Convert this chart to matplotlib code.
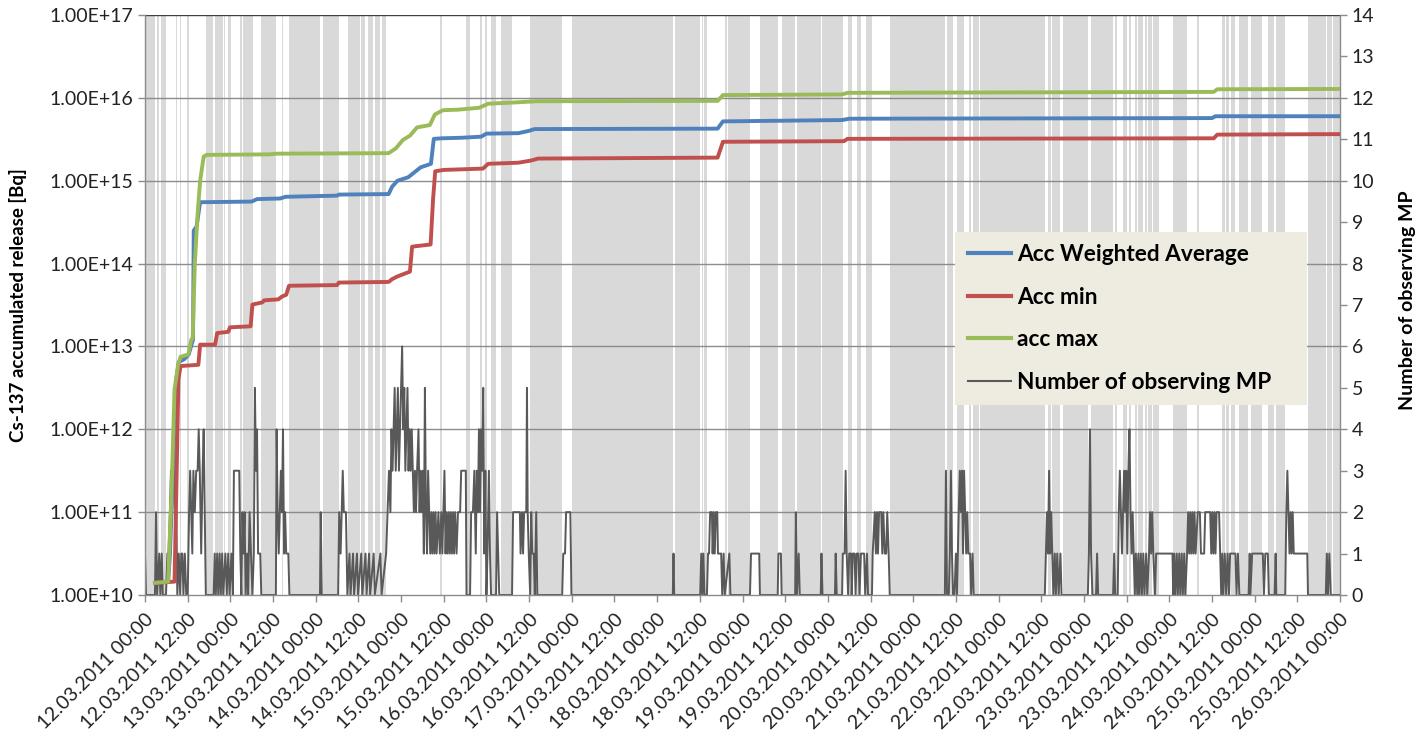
import matplotlib.pyplot as plt
import pandas as pd
from matplotlib.ticker import FixedLocator, FuncFormatter
from matplotlib.lines import Line2D

plt.rcParams['font.family'] = ['Lato', 'DejaVu Sans']

# Horas desde 12.03.2011 00:00
tick_labels = list(pd.date_range('2011-03-12 00:00', '2011-03-26 00:00', freq='12h').strftime('%d.%m.%Y %H:%M'))
tick_hours = list(range(0, 337, 12))

# Periodos sem observacao (faixas cinzas), inicio e fim em horas
band_start = [0, 3.4, 4.4, 8.7, 9.8, 10.6, 11.7, 17.1, 19.6, 22.2, 23.3, 26.7, 27.6, 32.7, 38.4, 40.5,
              50.0, 57.2, 60.7, 62.6, 64.7, 66.6, 82.9, 90.3, 94.2, 95.6, 97.3, 100.0, 108.3, 120.1,
              149.0, 156.5, 157.3, 163.1, 163.8, 172.8, 179.0, 183.2, 190.4, 197.8, 200.1, 202.7,
              209.5, 225.6, 228.4, 231.7, 232.9, 234.8, 254.0, 255.0, 258.2, 266.0, 272.8, 275.1,
              276.7, 278.4, 279.3, 281.2, 282.1, 283.5, 289.1, 295.7, 302.7, 304.0, 305.3, 307.7,
              310.9, 315.8, 317.9, 326.9, 332.4, 334.1]
band_end = [2.8, 3.9, 5.9, 9.0, 10.1, 10.8, 12.4, 19.2, 22.0, 22.5, 24.2, 27.2, 30.3, 36.8, 38.8, 49.2,
            54.5, 60.5, 61.9, 64.2, 66.1, 67.7, 83.4, 91.4, 94.7, 96.1, 98.7, 103.1, 117.3, 148.4,
            156.0, 156.9, 158.0, 163.6, 170.1, 177.9, 182.8, 190.0, 196.3, 198.7, 201.3, 204.3,
            224.9, 227.1, 230.4, 232.2, 234.5, 253.1, 254.7, 257.3, 265.1, 272.1, 273.4, 276.2,
            277.2, 278.8, 280.7, 281.7, 283.1, 285.2, 292.9, 296.3, 303.7, 304.9, 306.5, 310.2,
            314.2, 317.5, 320.6, 332.1, 333.7, 336]

# Numero de pontos de medicao (MP) observando
mp_h = [0, 0.3, 2.8, 3.1, 3.4, 4.0, 4.3, 4.7, 5.0, 5.9, 6.3, 6.6, 7.0, 7.3, 7.6, 7.9, 8.2, 8.5, 8.8, 9.1,
        9.5, 9.9, 10.2, 10.5, 10.8, 11.2, 11.6, 12.0, 12.4, 12.7, 13.0, 13.3, 13.6, 14.0, 14.4, 14.8,
        15.1, 15.4, 15.8, 16.2, 16.5, 16.8, 17.1, 19.3, 19.6, 19.9, 20.3, 20.6, 21.0, 21.3, 21.7, 22.0,
        22.6, 23.0, 23.4, 23.8, 24.3, 24.7, 25.0, 26.5, 26.8, 27.1, 27.4, 27.7, 28.0, 28.3, 28.7, 29.0,
        29.4, 29.8, 30.2, 30.6, 30.9, 31.2, 31.5, 31.8, 32.4, 32.7, 36.8, 37.0, 37.3, 37.6, 37.9, 38.2,
        38.5, 38.8, 39.1, 39.4, 39.7, 40.3, 40.6, 49.2, 49.4, 49.7, 54.3, 54.6, 55.0, 55.3, 55.6, 55.9,
        56.5, 56.9, 57.5, 57.8, 58.5, 58.8, 59.6, 59.9, 60.8, 61.1, 62.0, 62.3, 63.0, 63.3, 64.3, 64.6,
        66.2, 66.5, 67.8, 68.2, 68.6, 69.0, 69.3, 69.6, 69.9, 70.2, 70.5, 70.8, 71.1, 71.4, 71.7, 72.0,
        72.3, 72.6, 72.9, 73.2, 73.5, 73.8, 74.1, 74.4, 74.7, 75.0, 75.3, 75.6, 75.9, 76.2, 76.5, 76.9,
        77.2, 77.5, 77.8, 78.1, 78.4, 78.7, 79.0, 79.3, 79.6, 79.9, 80.2, 80.5, 80.8, 81.1, 81.4, 81.7,
        82.0, 82.5, 82.9, 83.3, 83.6, 83.9, 84.2, 84.5, 84.8, 85.1, 85.4, 85.7, 86.0, 86.3, 86.6, 86.9,
        87.2, 87.6, 88.0, 88.6, 88.9, 90.2, 90.4, 91.4, 91.7, 92.2, 92.6, 93.0, 93.3, 93.6, 93.9, 94.2,
        94.5, 94.8, 95.1, 95.4, 95.7, 96.0, 96.3, 96.7, 97.0, 97.3, 98.7, 99.0, 99.3, 99.6, 103.2, 103.5,
        105.4, 105.6, 106.0, 106.3, 106.6, 107.2, 107.4, 107.6, 107.9, 108.3, 108.6, 108.9, 109.3, 109.6,
        110.0, 110.3, 117.3, 117.6, 118.1, 118.4, 119.6, 119.9, 148.4, 148.6, 148.8, 156.1, 156.4, 156.7,
        157.0, 157.3, 158.0, 158.3, 158.6, 158.9, 159.4, 159.6, 159.9, 160.2, 160.5, 160.9, 161.1, 162.0,
        162.3, 162.7, 163.0, 164.3, 164.6, 170.1, 170.4, 172.7, 172.9, 177.9, 178.1, 178.8, 179.0, 182.8,
        183.0, 183.3, 183.8, 184.1, 190.0, 190.2, 190.5, 194.0, 194.2, 194.5, 196.0, 196.2, 196.7, 197.0,
        197.3, 197.7, 198.0, 198.5, 198.7, 199.0, 199.5, 199.8, 200.1, 200.6, 200.9, 201.3, 202.2, 202.5,
        203.0, 203.3, 204.4, 204.6, 205.2, 205.5, 205.8, 206.1, 206.4, 207.0, 207.3, 207.6, 208.0, 208.4,
        208.7, 209.1, 209.4, 224.9, 225.2, 225.5, 226.0, 226.3, 226.6, 226.9, 227.2, 227.6, 228.0, 228.3,
        228.8, 229.1, 229.4, 229.7, 230.0, 230.3, 230.6, 230.9, 231.2, 231.5, 232.0, 232.3, 232.7, 233.0,
        234.5, 253.0, 253.3, 253.6, 253.9, 254.2, 254.5, 254.8, 255.1, 255.4, 255.8, 256.1, 256.5, 256.9,
        257.4, 257.7, 258.0, 258.4, 265.1, 265.4, 265.7, 266.0, 266.4, 267.4, 267.7, 268.0, 272.2, 272.5,
        272.8, 273.5, 273.8, 274.1, 274.4, 274.7, 275.0, 275.3, 275.6, 275.9, 276.2, 276.5, 276.8, 277.1,
        277.4, 277.7, 278.0, 278.3, 278.6, 279.0, 279.3, 279.6, 280.0, 280.3, 280.7, 281.0, 281.5, 281.8,
        282.3, 282.6, 282.9, 283.2, 283.5, 284.0, 284.3, 285.3, 288.9, 289.1, 289.4, 289.7, 290.1, 290.4,
        290.8, 291.1, 291.5, 291.8, 292.2, 292.5, 293.0, 293.3, 293.6, 293.9, 294.2, 294.5, 294.8, 295.1,
        295.4, 296.0, 296.6, 296.9, 297.8, 298.1, 299.5, 299.8, 300.1, 300.4, 300.7, 301.0, 301.3, 302.0,
        302.3, 302.6, 302.9, 303.2, 303.6, 304.0, 304.4, 304.8, 305.1, 306.6, 306.9, 307.3, 307.7, 310.3,
        310.6, 310.8, 311.3, 314.3, 314.6, 315.0, 315.7, 316.0, 317.6, 317.9, 318.1, 320.6, 320.9, 321.2,
        321.5, 321.8, 322.1, 322.4, 322.7, 323.0, 326.8, 327.0, 332.0, 332.3, 332.6, 333.0, 333.4, 336]
mp_n = [1, 0, 0, 2, 0, 1, 0, 1, 0, 0, 1, 1, 2, 3, 2, 3, 4, 1, 2, 0,
        1, 0, 1, 1, 0, 1, 0, 0, 2, 3, 2, 1, 3, 2, 3, 3,
        4, 3, 1, 3, 4, 2, 0, 0, 1, 0, 1, 0, 1, 0, 1, 0,
        1, 0, 1, 0, 1, 0, 3, 3, 1, 0, 2, 1, 2, 0, 1, 0,
        2, 1, 0, 1, 5, 3, 4, 1, 1, 0, 0, 4, 2, 1, 2, 3,
        2, 4, 1, 2, 1, 1, 0, 0, 2, 0, 0, 2, 1, 2, 3, 2,
        2, 0, 1, 0, 1, 0, 1, 0, 1, 0, 1, 0, 1, 0, 1, 0,
        1, 0, 1, 2, 3, 2, 4, 3, 4, 5, 3, 4, 5, 3, 4, 5,
        6, 4, 5, 3, 4, 5, 3, 4, 3, 4, 3, 2, 3, 2, 3, 4,
        2, 3, 2, 3, 1, 5, 2, 1, 3, 2, 1, 2, 1, 2, 1, 2,
        1, 2, 1, 2, 1, 2, 3, 1, 2, 1, 2, 1, 2, 1, 2, 1,
        2, 1, 2, 2, 3, 3, 0, 0, 2, 2, 3, 1, 3, 2, 4, 2,
        4, 3, 5, 1, 3, 0, 1, 3, 1, 0, 0, 2, 1, 0, 0, 2,
        2, 1, 2, 1, 2, 2, 5, 2, 1, 0, 2, 1, 1, 0,
        2, 0, 0, 1, 1, 2, 2, 0, 0, 1, 0, 0, 1, 0,
        1, 0, 0, 1, 1, 2, 2, 1, 2, 1, 2, 2, 1, 1,
        0, 1, 0, 1, 0, 0, 1, 1, 0, 0, 1, 1, 0, 0,
        2, 0, 1, 0, 0, 1, 0, 0, 1, 0, 0, 1, 1, 3,
        1, 0, 1, 1, 0, 1, 1, 0, 1, 1, 0, 1, 1, 0,
        1, 0, 0, 1, 2, 1, 2, 1, 2, 2, 1, 2, 1, 1,
        2, 1, 0, 0, 3, 0, 0, 1, 3, 1, 0, 0, 1, 0,
        2, 3, 2, 3, 1, 3, 2, 1, 2, 1, 1, 0, 1, 0,
        0, 0, 1, 2, 1, 3, 1, 2, 1, 0, 1, 0, 1, 0,
        1, 0, 0, 0, 0, 1, 4, 1, 0, 0, 1, 0, 0, 1,
        0, 0, 2, 3, 2, 1, 2, 3, 2, 3, 1, 3, 4, 2,
        1, 2, 1, 0, 1, 0, 1, 0, 1, 0, 1, 0, 1, 0,
        1, 2, 1, 2, 1, 0, 1, 1, 1, 0, 1, 0, 1, 0,
        1, 0, 1, 0, 1, 0, 1, 2, 1, 2, 1, 2, 1, 2,
        1, 2, 2, 1, 1, 2, 2, 1, 2, 1, 2, 1, 2, 2,
        1, 0, 1, 0, 1, 0, 1, 0, 1, 1, 0, 1, 0, 0,
        1, 0, 1, 1, 0, 1, 1, 0, 0, 1, 0, 0, 2, 3,
        2, 1, 2, 1, 2, 1, 1, 0, 0, 1, 0, 1, 0, 0]

# Liberacao acumulada de Cs-137 [Bq]
avg_h = [2.8, 6.5, 7.0, 8.0, 8.8, 9.5, 11.0, 12.3, 13.2, 13.5, 13.7, 14.5, 15.5, 30, 31.5, 38, 39.5, 54,
         54.5, 68.5, 69.5, 71, 74, 77.5, 80.4, 81.2, 83.5, 89, 94.5, 96, 105, 108, 109.5, 161, 162.5,
         196, 198, 300, 301, 336]
avg_v = [1.4e10, 1.45e10, 3e10, 5e11, 4e12, 6.5e12, 7e12, 8e12, 1.1e13, 1.2e13, 2.5e14, 2.8e14, 5.5e14,
         5.6e14, 6.0e14, 6.1e14, 6.4e14, 6.6e14, 6.8e14, 6.9e14, 8.5e14, 1.0e15, 1.1e15, 1.45e15,
         1.6e15, 3.2e15, 3.25e15, 3.3e15, 3.4e15, 3.7e15, 3.75e15, 4.0e15, 4.2e15, 4.25e15, 5.2e15,
         5.4e15, 5.6e15, 5.7e15, 6.0e15, 6.0e15]

min_h = [2.8, 8.3, 8.9, 9.4, 10, 15, 15.5, 19.7, 20.3, 23.4, 23.9, 29.7, 30.2, 33, 33.5, 37.5, 38.5,
         39.7, 40.5, 54, 54.5, 68.5, 69.5, 71, 74.5, 75.1, 80.3, 81.0, 81.6, 84, 95, 96.5, 105, 108.5,
         110.5, 161, 162.5, 196.5, 197.5, 300.5, 301.5, 336]
min_v = [1.4e10, 1.45e10, 3e11, 4e12, 5.8e12, 6e12, 1.05e13, 1.05e13, 1.45e13, 1.5e13, 1.7e13, 1.75e13,
         3.2e13, 3.4e13, 3.6e13, 3.7e13, 4e13, 4.2e13, 5.4e13, 5.5e13, 5.9e13, 6e13, 6.5e13, 7e13, 8e13,
         1.6e14, 1.7e14, 6e14, 1.3e15, 1.35e15, 1.4e15, 1.6e15, 1.65e15, 1.75e15, 1.85e15, 1.9e15,
         2.95e15, 3.0e15, 3.2e15, 3.25e15, 3.6e15, 3.65e15]

max_h = [2.8, 6.5, 7.5, 8.3, 9.3, 10, 12.2, 13.0, 13.4, 14, 14.8, 15.5, 16.5, 17.3, 35, 37, 68.5, 70.5,
         72.5, 74.5, 76.5, 80.1, 81.5, 83.8, 88, 94, 96.5, 104, 108, 110, 161, 162.5, 196, 197.5, 300.5,
         301.5, 336]
max_v = [1.4e10, 1.45e10, 2e11, 3e12, 6e12, 7.5e12, 8e12, 1.2e13, 1.25e13, 1e14, 4e14, 1.0e15, 1.95e15,
         2.05e15, 2.08e15, 2.12e15, 2.15e15, 2.45e15, 3.1e15, 3.5e15, 4.4e15, 4.7e15, 6.3e15, 7.1e15,
         7.2e15, 7.6e15, 8.5e15, 8.8e15, 9.0e15, 9.1e15, 9.2e15, 1.08e16, 1.1e16, 1.15e16, 1.18e16,
         1.27e16, 1.28e16]

fig = plt.figure(figsize=(14.2, 7.39), dpi=100)
ax = fig.add_axes([145 / 1420, 1 - 595 / 739, 1195 / 1420, 580 / 739])
ax2 = ax.twinx()
ax.set_zorder(ax2.get_zorder() + 1)
ax.patch.set_visible(False)

grid_c = '#8c8c8c'

# Eixo secundario: faixas cinzas, grade e numero de MP
for s, e in zip(band_start, band_end):
    ax2.axvspan(s, e, color='#d9d9d9', lw=0, zorder=0)
for v in range(2, 14, 2):
    ax2.axhline(v, color=grid_c, lw=1, zorder=1)
ax2.axhline(14, color='#404040', lw=1, zorder=1)
ax2.plot(mp_h, mp_n, color='#595959', lw=1.4, zorder=2)
ax2.set_ylim(0, 14)
ax2.set_yticks(range(0, 15))

# Eixo principal (log): liberacao acumulada
ax.plot(avg_h, avg_v, color='#4f81bd', lw=2.8, solid_joinstyle='round')
ax.plot(min_h, min_v, color='#c0504d', lw=2.8, solid_joinstyle='round')
ax.plot(max_h, max_v, color='#9bbb59', lw=2.8, solid_joinstyle='round')
ax.set_yscale('log')
ax.set_ylim(1e10, 1e17)
ax.set_xlim(0, 336)
ax.yaxis.set_major_locator(FixedLocator([10.0 ** k for k in range(10, 18)]))
ax.yaxis.set_minor_locator(FixedLocator([]))
ax.yaxis.set_major_formatter(FuncFormatter(lambda v, p: f'{v:.2E}'))

ax.set_xticks(tick_hours)
ax.set_xticklabels(tick_labels, rotation=45, ha='right', va='top', rotation_mode='anchor')

for a in (ax, ax2):
    for sp in a.spines.values():
        sp.set_visible(False)
    a.tick_params(labelsize=14, colors='#222222', length=5, width=1)
    a.tick_params(color=grid_c)
ax.spines['left'].set_visible(True)
ax.spines['bottom'].set_visible(True)
ax2.spines['right'].set_visible(True)
for sp in (ax.spines['left'], ax.spines['bottom'], ax2.spines['right']):
    sp.set_color(grid_c)
    sp.set_linewidth(1)
ax.tick_params(axis='x', pad=6)

fig.text(18 / 1420, 1 - 305 / 739, 'Cs-137 accumulated release [Bq]', rotation=90,
         ha='center', va='center', fontsize=13.5, fontweight='bold')
fig.text(1408 / 1420, 1 - 300 / 739, 'Number of observing MP', rotation=90,
         ha='center', va='center', fontsize=14, fontweight='bold')

handles = [Line2D([], [], color='#4f81bd', lw=3), Line2D([], [], color='#c0504d', lw=3),
           Line2D([], [], color='#9bbb59', lw=3), Line2D([], [], color='#595959', lw=1.5)]
labels = ['Acc Weighted Average', 'Acc min', 'acc max', 'Number of observing MP']
leg = ax.legend(handles, labels, loc='upper left', bbox_to_anchor=(0.678, 0.333, 0.294, 0.293),
                mode='expand', frameon=True, fancybox=False, facecolor='#eeece1', edgecolor='none',
                framealpha=1, prop={'size': 16.3, 'weight': 'bold'}, handlelength=1.9,
                handletextpad=0.3, labelspacing=0.95, borderpad=0.55, borderaxespad=0)

plt.savefig('out.png', dpi=100)
